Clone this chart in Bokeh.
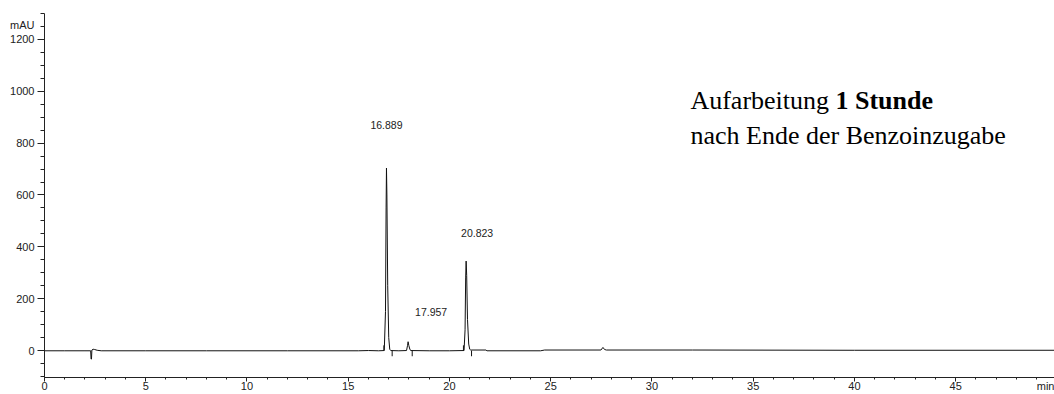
from bokeh.plotting import figure
from bokeh.models import Range1d, SingleIntervalTicker, FixedTicker, Label, LinearAxis
from bokeh.embed import file_html
from bokeh.resources import INLINE

# ---- data ----
time_min = [0.0, 1.0, 2.0, 2.28, 2.30, 2.32, 2.34, 2.40, 2.48, 2.60, 2.80, 5.0, 8.0,
            12.0, 15.5, 16.0, 16.5, 16.78, 16.84, 16.87, 16.889, 16.91, 16.95, 17.0,
            17.05, 17.1, 17.5, 17.88, 17.93, 17.957, 17.99, 18.05, 18.1, 19.0, 20.0,
            20.72, 20.77, 20.80, 20.823, 20.85, 20.89, 20.95, 21.0, 21.05, 21.1, 21.8,
            21.85, 24.5, 24.7, 27.48, 27.58, 27.66, 27.75, 32.0, 40.0, 49.9]
signal_mau = [-1, -1, -1, -1, -33, -33, 2, 5, 4, 1, -1, -1, -1,
              -1, -1, 0, -1, 0, 150, 550, 704, 600, 250, 50,
              5, 0, -1, 0, 20, 34, 20, 3, 0, -1, -1,
              0, 80, 280, 345, 290, 120, 25, 5, 2, 2, 2,
              -1, -1, 2, 2, 12, 4, 2, 2, 1, 1]

peak_times = [16.889, 17.957, 20.823]
peak_labels = ["16.889", "17.957", "20.823"]
peak_label_heights = [870, 148, 453]

start_marks = [16.76, 20.69]
end_marks = [17.17, 18.16, 21.09]

x_tick_values = [0, 5, 10, 15, 20, 25, 30, 35, 40, 45]
x_unit_pos, x_unit_text = 49.45, "min"
y_tick_values = [0, 200, 400, 600, 800, 1000, 1200]
y_unit_pos, y_unit_text = 1255, "mAU"

FONT = "Liberation Sans"
AX = "#222222"

p = figure(width=1054, height=394, x_range=Range1d(0, 49.88), y_range=Range1d(-104, 1300),
           output_backend="svg", toolbar_location=None,
           min_border_left=44, min_border_right=0, min_border_top=13, min_border_bottom=17)
p.outline_line_color = None
p.xgrid.visible = False
p.ygrid.visible = False

# main axes: line + ticks only (their own labels are not painted)
p.xaxis.ticker = SingleIntervalTicker(interval=5, num_minor_ticks=5)
p.yaxis.ticker = SingleIntervalTicker(interval=200, num_minor_ticks=4)
for ax in (p.xaxis, p.yaxis):
    ax.axis_line_color = AX
    ax.major_tick_line_color = AX
    ax.minor_tick_line_color = AX
    ax.major_tick_in = 0
    ax.minor_tick_in = 0
    ax.major_label_text_font_size = "0px"
    ax.major_label_text_color = None
    ax.major_label_standoff = 0
p.xaxis.major_tick_out = 4
p.xaxis.minor_tick_out = 2
p.yaxis.major_tick_out = 7
p.yaxis.minor_tick_out = 4

# label axes: texts only (tick labels plus the unit)
xlab = LinearAxis(ticker=FixedTicker(ticks=x_tick_values + [x_unit_pos]),
                  major_label_overrides={x_unit_pos: x_unit_text})
ylab = LinearAxis(ticker=FixedTicker(ticks=y_tick_values + [y_unit_pos]),
                  major_label_overrides={y_unit_pos: y_unit_text})
for ax in (xlab, ylab):
    ax.axis_line_color = None
    ax.major_tick_line_color = None
    ax.minor_tick_line_color = None
    ax.major_tick_in = 0
    ax.major_tick_out = 0
    ax.minor_tick_in = 0
    ax.minor_tick_out = 0
    ax.major_label_text_font = FONT
    ax.major_label_text_font_size = "11px"
    ax.major_label_text_color = AX
xlab.major_label_standoff = -2
ylab.major_label_standoff = 3
p.add_layout(xlab, "below")
p.add_layout(ylab, "left")

p.line(time_min, signal_mau, line_color="#111111", line_width=1)
p.segment(x0=start_marks, y0=[0] * len(start_marks), x1=start_marks, y1=[20] * len(start_marks),
          line_color="#111111", line_width=1)
p.segment(x0=end_marks, y0=[0] * len(end_marks), x1=end_marks, y1=[-22] * len(end_marks),
          line_color="#111111", line_width=1)

offsets = [0, 23, 11]
for t, lab, h, off in zip(peak_times, peak_labels, peak_label_heights, offsets):
    p.add_layout(Label(x=t, y=h, text=lab, x_offset=off, text_align="center", text_baseline="middle",
                       text_font=FONT, text_font_size="10.5px", text_color=AX))

# annotation
p.add_layout(Label(x=31.9, y=963, text="Aufarbeitung", text_align="left", text_baseline="alphabetic",
                   text_font="Liberation Serif", text_font_size="26px", text_color="black"))
p.add_layout(Label(x=31.9, y=963, x_offset=145, text="1 Stunde", text_align="left",
                   text_baseline="alphabetic", text_font="Liberation Serif", text_font_size="26px",
                   text_font_style="bold", text_color="black"))
p.add_layout(Label(x=31.9, y=831, text="nach Ende der Benzoinzugabe", text_align="left",
                   text_baseline="alphabetic", text_font="Liberation Serif", text_font_size="26px",
                   text_color="black"))

open("out.html", "w").write(file_html(p, INLINE))
